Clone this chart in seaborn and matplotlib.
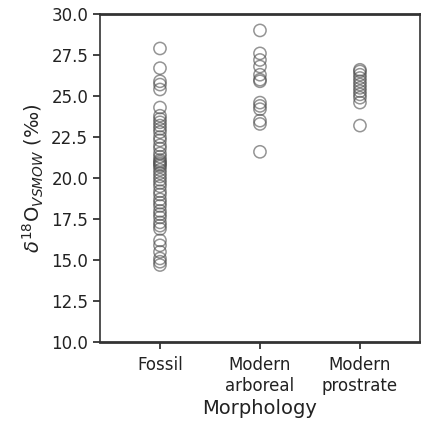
import matplotlib
matplotlib.use("Agg")
import matplotlib.pyplot as plt
import seaborn as sns
import pandas as pd

categories = ["Fossil", "Modern\narboreal", "Modern\nprostrate"]

fossil = [27.9, 26.7, 25.9, 25.7, 25.4, 24.3, 23.8, 23.6, 23.4, 23.2, 23.0, 22.8,
          22.5, 22.3, 22.0, 21.8, 21.5, 21.3, 21.1, 21.0, 20.9, 20.8, 20.7, 20.5,
          20.3, 20.1, 19.9, 19.7, 19.5, 19.2, 19.0, 18.7, 18.5, 18.3, 18.0, 17.8,
          17.6, 17.3, 17.1, 16.9, 16.2, 15.9, 15.5, 15.1, 14.9, 14.7]
arboreal = [29.0, 27.6, 27.2, 26.8, 26.3, 26.0, 25.9, 24.6, 24.4, 24.2, 23.5, 23.3, 21.6]
prostrate = [26.6, 26.5, 26.3, 26.1, 25.9, 25.7, 25.5, 25.3, 25.1, 24.9, 24.6, 23.2]

df = pd.DataFrame({
    "Morphology": [categories[0]] * len(fossil) + [categories[1]] * len(arboreal)
                  + [categories[2]] * len(prostrate),
    "d18O": fossil + arboreal + prostrate,
})

sns.set_style("ticks")
plt.rcParams["font.family"] = ["DejaVu Sans"]

fig = plt.figure(figsize=(4.21, 4.25), dpi=100)
ax = fig.add_axes([0.2375, 0.195, 0.76, 0.772])

sns.stripplot(data=df, x="Morphology", y="d18O", order=categories, jitter=False,
              size=8.8, color="none", edgecolor="#555555", linewidth=1.0, ax=ax)
for c in ax.collections:
    c.set_facecolor("none")
    c.set_edgecolor((0.3, 0.3, 0.3, 0.6))
    c.set_linewidth(1.1)

ax.set_xlim(-0.6, 2.6)
ax.set_ylim(10, 30)
ax.set_yticks([10, 12.5, 15, 17.5, 20, 22.5, 25, 27.5, 30])
ax.set_yticklabels(["10.0", "12.5", "15.0", "17.5", "20.0", "22.5", "25.0", "27.5", "30.0"])
ax.tick_params(labelsize=12, length=5, width=1.2, color="#222222", labelcolor="#222222")
ax.tick_params(axis="x", pad=5)
ax.set_xlabel("Morphology", fontsize=14, color="#222222", labelpad=3)
ax.set_ylabel(r"$\delta^{18}$O$_{VSMOW}$ (‰)", fontsize=14, color="#222222", labelpad=4)
for s in ax.spines.values():
    s.set_visible(True)
    s.set_color("#333333")
    s.set_linewidth(1.2)
ax.spines["top"].set_linewidth(2.0)
ax.spines["bottom"].set_linewidth(2.0)

fig.savefig("out.png", dpi=100)
